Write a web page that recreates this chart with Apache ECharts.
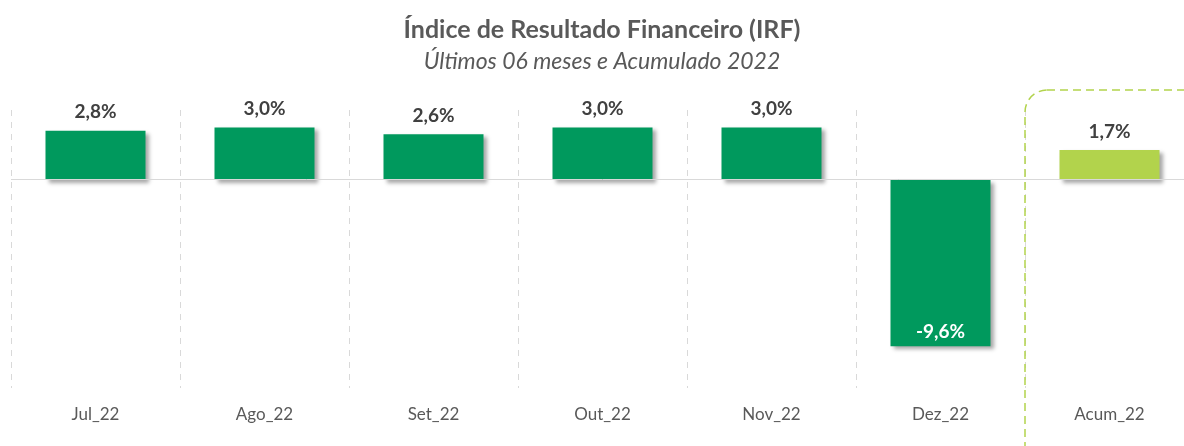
<!DOCTYPE html>
<html>
<head>
<meta charset="utf-8">
<script src="https://cdn.jsdelivr.net/npm/echarts@6/dist/echarts.min.js"></script>
<style>
  html, body { margin: 0; padding: 0; background: #fff; overflow: hidden; }
  #chart { width: 1194px; height: 446px; }
</style>
</head>
<body>
<div id="chart"></div>
<script>
// dados do gráfico
const categorias = ['Jul_22', 'Ago_22', 'Set_22', 'Out_22', 'Nov_22', 'Dez_22', 'Acum_22'];
const valores = [2.8, 3.0, 2.6, 3.0, 3.0, -9.6, 1.7];
const corMes = '#00995d';
const corAcum = '#b2d34c';

const myChart = echarts.init(document.getElementById('chart'));

const fmt = v => v.toFixed(1).replace('.', ',') + '%';

const option = {
  backgroundColor: '#ffffff',
  textStyle: { fontFamily: 'Lato, "Open Sans", sans-serif' },
  title: {
    text: 'Índice de Resultado Financeiro (IRF)',
    subtext: 'Últimos 06 meses e Acumulado 2022',
    left: 597,
    textAlign: 'center',
    top: 12,
    itemGap: 8,
    textStyle: { fontSize: 25, fontWeight: 'bold', color: '#595959', fontFamily: 'Lato, sans-serif' },
    subtextStyle: { fontSize: 23, fontStyle: 'italic', color: '#595959', fontFamily: 'Lato, sans-serif' }
  },
  grid: {
    left: 11,
    top: 110,
    right: 0,
    height: 278
  },
  xAxis: {
    type: 'category',
    data: categorias,
    position: 'bottom',
    axisLine: { show: false },
    axisTick: { show: false },
    axisLabel: { color: '#595959', fontSize: 17, margin: 18 },
    splitLine: {
      show: true,
      lineStyle: { color: '#d9d9d9', type: [6, 6], width: 1 }
    }
  },
  yAxis: {
    type: 'value',
    min: -12,
    max: 4,
    show: false,
    splitLine: { show: false }
  },
  series: [
    {
      type: 'bar',
      barWidth: 100,
      data: valores.map((v, i) => ({
        value: v,
        itemStyle: { color: i === categorias.length - 1 ? corAcum : corMes },
        label: v < 0
          ? { position: 'insideBottom', color: '#ffffff', distance: 5 }
          : { position: 'top', color: '#404040', distance: 9 }
      })),
      itemStyle: {
        shadowColor: 'rgba(0,0,0,0.35)',
        shadowBlur: 4,
        shadowOffsetX: 3,
        shadowOffsetY: 3
      },
      label: {
        show: true,
        fontSize: 19,
        fontWeight: 'bold',
        formatter: p => fmt(p.value)
      },
      markLine: {
        silent: true,
        symbol: 'none',
        label: { show: false },
        lineStyle: { color: '#d9d9d9', type: 'solid', width: 1 },
        data: [{ yAxis: 0 }]
      }
    }
  ]
};

myChart.setOption(option);

// caixa tracejada em volta do acumulado
const cx = myChart.convertToPixel({ xAxisIndex: 0 }, categorias.length - 1);
const meia = myChart.getWidth() > 0 ? (myChart.getWidth() - 11) / categorias.length / 2 : 84.5;
myChart.setOption({
  graphic: [
    {
      type: 'rect',
      z: 100,
      shape: { x: cx - meia, y: 90, width: meia * 2 + 20, height: 400, r: 22 },
      style: { fill: 'none', stroke: corAcum, lineWidth: 1.5, lineDash: [8, 5] }
    }
  ]
});
</script>
</body>
</html>
